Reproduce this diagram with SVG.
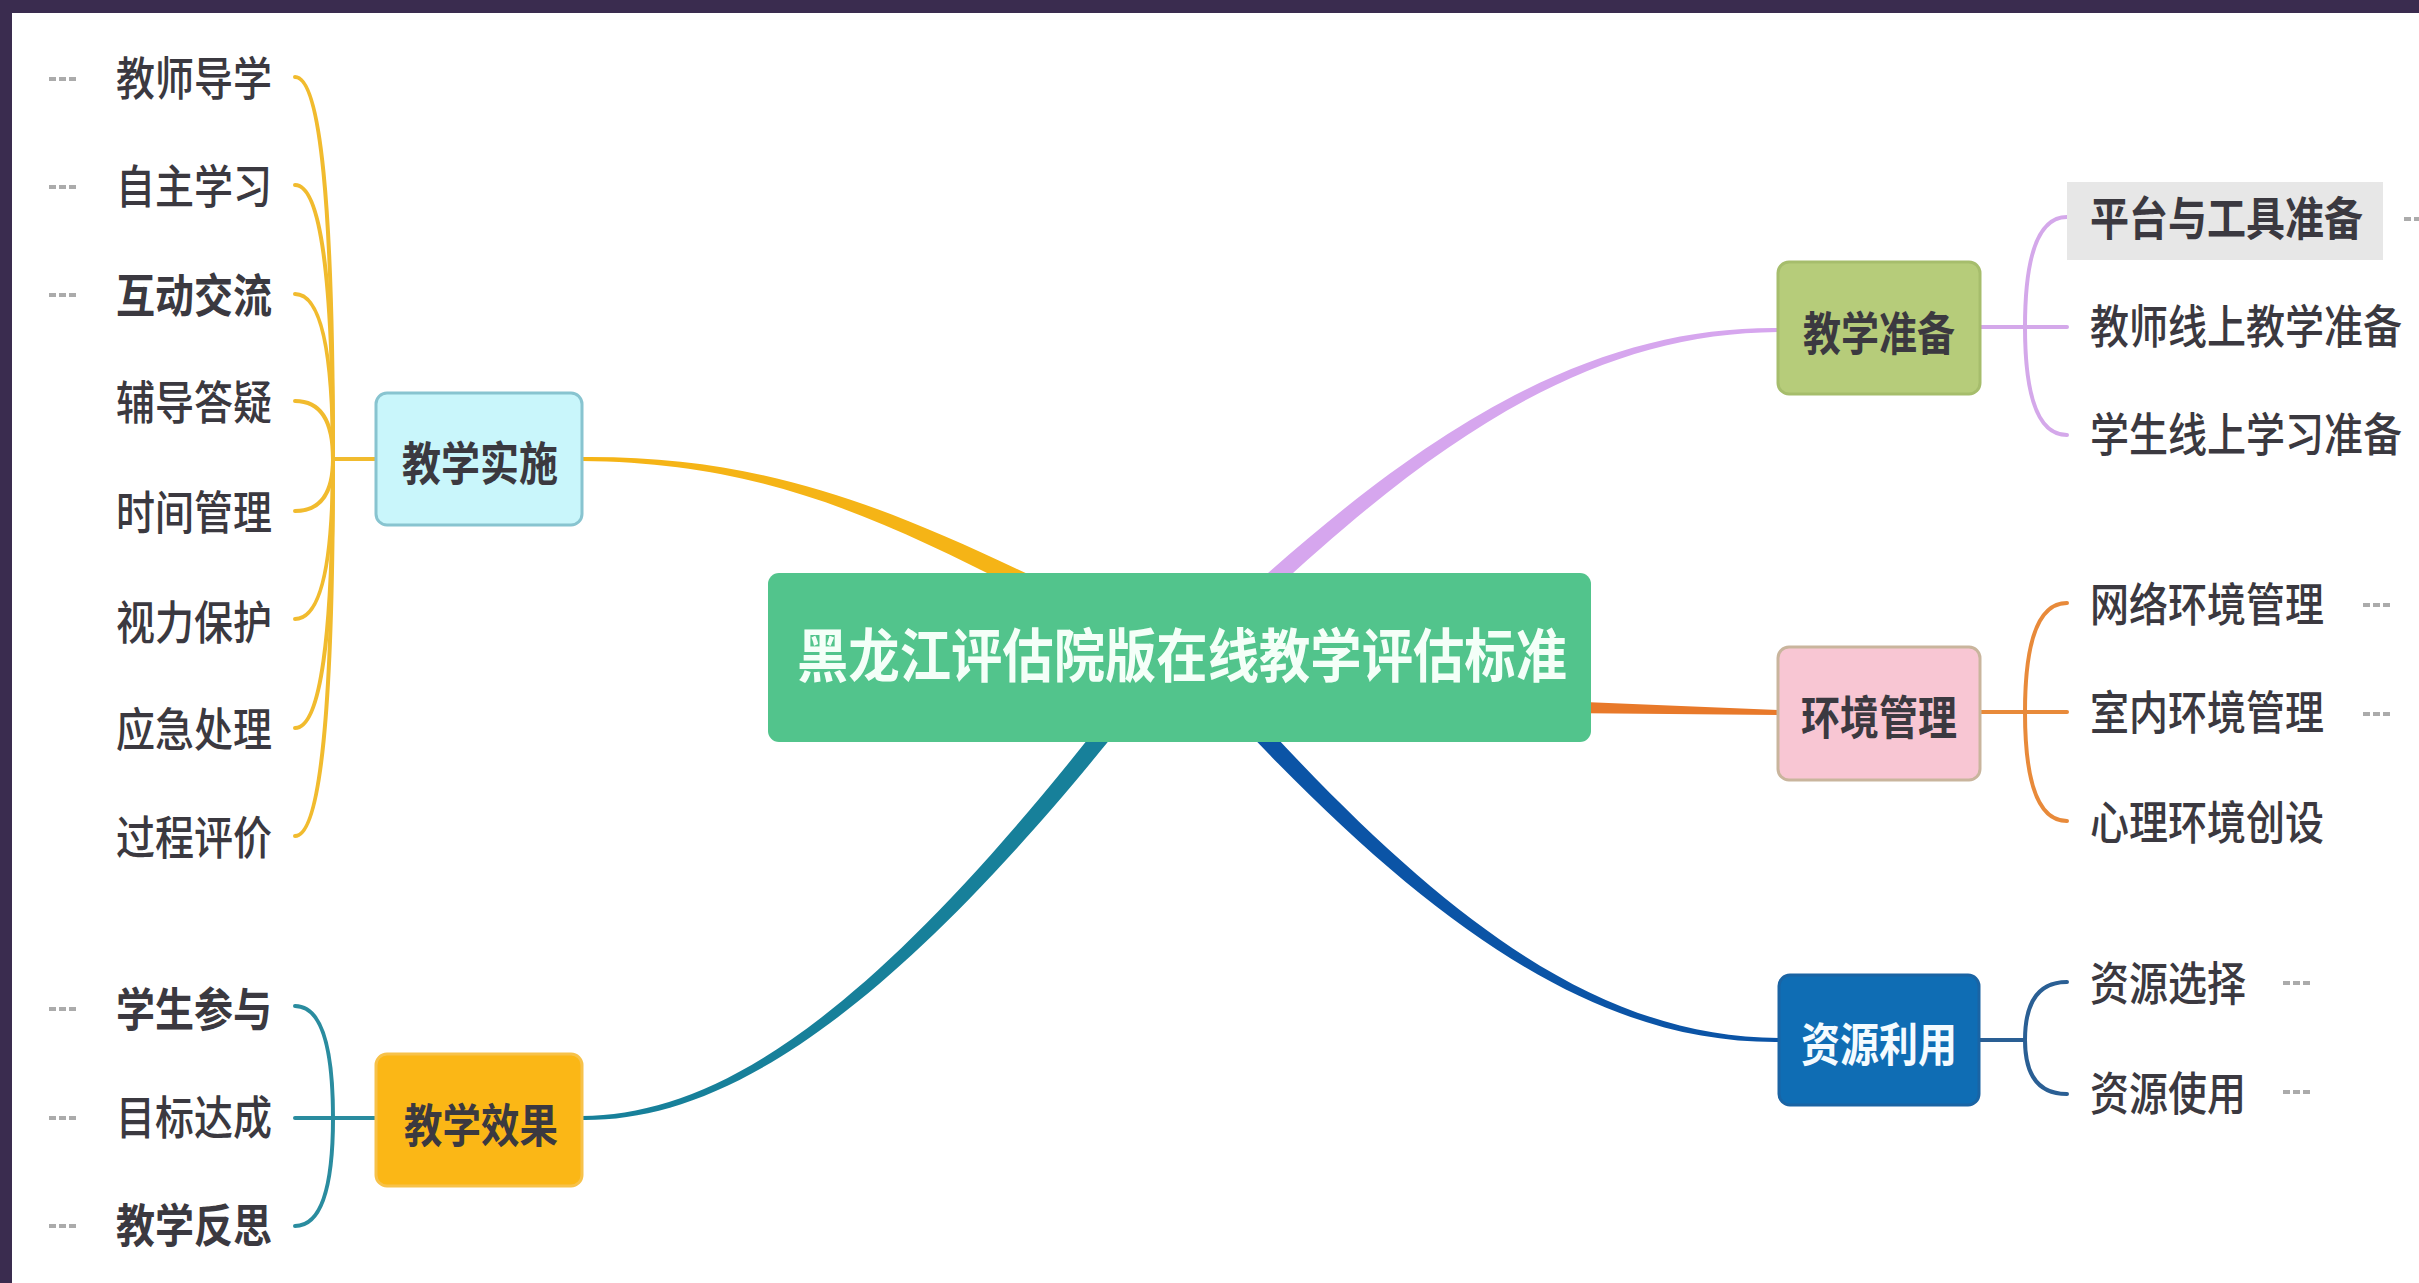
<svg xmlns="http://www.w3.org/2000/svg" width="2419" height="1283" viewBox="0 0 2419 1283">
<style>
  .t { font-family: "Noto Sans CJK SC", "Noto Sans", sans-serif; font-size: 46px; fill: #3b3940; }
  .lf { font-weight: 500; }
  .b { font-weight: 700; }
  .ctr { font-family: "Noto Sans CJK SC", "Noto Sans", sans-serif; font-size: 58px; font-weight: 700; fill: #f4fff8; }
  .ly { fill: none; stroke: #f1bb2e; stroke-width: 4; stroke-linecap: round; }
  .lp { fill: none; stroke: #d4a8ea; stroke-width: 4; stroke-linecap: round; }
  .lo { fill: none; stroke: #e88a3a; stroke-width: 4; stroke-linecap: round; }
  .lb { fill: none; stroke: #2a5f94; stroke-width: 4; stroke-linecap: round; }
  .lt { fill: none; stroke: #2a8c9f; stroke-width: 4; stroke-linecap: round; }
  .dash { stroke: #ababab; stroke-width: 4; stroke-dasharray: 7 3; }
</style>
<rect x="0" y="0" width="2419" height="1283" fill="#ffffff"/>
<rect x="0" y="0" width="2419" height="13" fill="#3a2c4f"/>
<rect x="0" y="0" width="12" height="1283" fill="#3a2c4f"/>

<g id="connectors">
  <path d="M582,457 C760,455.5 882.9,504.2 1044,582 L1036,598 C877.1,515.8 760,462.5 582,461 Z" fill="#f5b416"/>
  <path d="M1778,328 C1600,326.5 1435.5,415.3 1223.8,613.5 L1236.2,626.5 C1444.5,424.7 1600,333.5 1778,332 Z" fill="#d6a6ee"/>
  <path d="M1560,701 L1778,710 L1778,715 L1560,713 Z" fill="#e8792a"/>
  <path d="M1779,1038 C1600,1036.5 1444.8,925.6 1236.7,693.9 L1223.3,706.1 C1435.2,934.4 1600,1043.5 1779,1042 Z" fill="#0b54a6"/>
  <path d="M582,1116 C720,1114.5 874.9,1016 1122.9,694.5 L1137.1,705.5 C885.1,1024 720,1121.5 582,1120 Z" fill="#17809a"/>

  <path class="ly" d="M376,459 L333,459"/>
  <path class="ly" d="M295,77 Q333,77 333,459"/>
  <path class="ly" d="M295,185 Q333,185 333,459"/>
  <path class="ly" d="M295,294 Q333,294 333,459"/>
  <path class="ly" d="M295,401 Q333,401 333,459"/>
  <path class="ly" d="M295,511 Q333,511 333,459"/>
  <path class="ly" d="M295,619 Q333,619 333,459"/>
  <path class="ly" d="M295,728 Q333,728 333,459"/>
  <path class="ly" d="M295,836 Q333,836 333,459"/>

  <path class="lt" d="M376,1118 L295,1118"/>
  <path class="lt" d="M295,1006 Q333,1006 333,1118"/>
  <path class="lt" d="M295,1226 Q333,1226 333,1118"/>

  <path class="lp" d="M1980,327 L2067,327"/>
  <path class="lp" d="M2067,217 Q2025,217 2025,327"/>
  <path class="lp" d="M2067,435 Q2025,435 2025,327"/>

  <path class="lo" d="M1980,712 L2067,712"/>
  <path class="lo" d="M2067,603 Q2025,603 2025,712"/>
  <path class="lo" d="M2067,821 Q2025,821 2025,712"/>

  <path class="lb" d="M1979,1040 L2025,1040"/>
  <path class="lb" d="M2067,982 Q2025,982 2025,1040"/>
  <path class="lb" d="M2067,1094 Q2025,1094 2025,1040"/>

  <line class="dash" x1="49" y1="79" x2="76" y2="79"/>
  <line class="dash" x1="49" y1="187" x2="76" y2="187"/>
  <line class="dash" x1="49" y1="295" x2="76" y2="295"/>
  <line class="dash" x1="49" y1="1009" x2="76" y2="1009"/>
  <line class="dash" x1="49" y1="1118" x2="76" y2="1118"/>
  <line class="dash" x1="49" y1="1226" x2="76" y2="1226"/>
  <line class="dash" x1="2404" y1="219" x2="2419" y2="219"/>
  <line class="dash" x1="2363" y1="605" x2="2390" y2="605"/>
  <line class="dash" x1="2363" y1="714" x2="2390" y2="714"/>
  <line class="dash" x1="2283" y1="983" x2="2310" y2="983"/>
  <line class="dash" x1="2283" y1="1092" x2="2310" y2="1092"/>
</g>

<g id="root">
  <rect x="768" y="573" width="823" height="169" rx="11" fill="#52c48c"/>
  <text class="ctr" x="797" y="677" textLength="770" lengthAdjust="spacingAndGlyphs">黑龙江评估院版在线教学评估标准</text>
</g>

<g id="n-shishi">
  <rect x="376" y="393" width="206" height="132" rx="11" fill="#c9f6fb" stroke="#88c4d0" stroke-width="3"/>
  <text class="t b" x="402" y="479.5" textLength="156" lengthAdjust="spacingAndGlyphs">教学实施</text>
</g>
<g id="n-xiaoguo">
  <rect x="376" y="1054" width="206" height="132" rx="11" fill="#fbb716" stroke="#f7c24a" stroke-width="3"/>
  <text class="t b" x="404" y="1141.5" textLength="154" lengthAdjust="spacingAndGlyphs">教学效果</text>
</g>
<g id="n-zhunbei">
  <rect x="1778" y="262" width="202" height="132" rx="11" fill="#b6cc7a" stroke="#a6bd6c" stroke-width="3"/>
  <text class="t b" x="1803" y="349.5" textLength="152" lengthAdjust="spacingAndGlyphs">教学准备</text>
</g>
<g id="n-huanjing">
  <rect x="1778" y="647" width="202" height="133" rx="11" fill="#f8c6d3" stroke="#c9b59d" stroke-width="3"/>
  <text class="t b" x="1801" y="733.5" textLength="156" lengthAdjust="spacingAndGlyphs">环境管理</text>
</g>
<g id="n-ziyuan">
  <rect x="1779" y="975" width="200" height="130" rx="11" fill="#0f6db4" stroke="#1a64a4" stroke-width="3"/>
  <text class="t b" x="1801" y="1060.5" textLength="156" lengthAdjust="spacingAndGlyphs" style="fill:#f4fbff">资源利用</text>
</g>

<g id="leaf-jiaoshidaoxue"><text class="t lf" x="116" y="94.5" textLength="156" lengthAdjust="spacingAndGlyphs">教师导学</text></g>
<g id="leaf-zizhuxuexi"><text class="t lf" x="116" y="202.5" textLength="156" lengthAdjust="spacingAndGlyphs">自主学习</text></g>
<g id="leaf-hudongjiaoliu"><text class="t b" x="116" y="311.5" textLength="156" lengthAdjust="spacingAndGlyphs">互动交流</text></g>
<g id="leaf-fudaodayi"><text class="t lf" x="116" y="418.5" textLength="156" lengthAdjust="spacingAndGlyphs">辅导答疑</text></g>
<g id="leaf-shijianguanli"><text class="t lf" x="116" y="528.5" textLength="156" lengthAdjust="spacingAndGlyphs">时间管理</text></g>
<g id="leaf-shilibaohu"><text class="t lf" x="116" y="638.5" textLength="156" lengthAdjust="spacingAndGlyphs">视力保护</text></g>
<g id="leaf-yingjichuli"><text class="t lf" x="116" y="745.5" textLength="156" lengthAdjust="spacingAndGlyphs">应急处理</text></g>
<g id="leaf-guochengpingjia"><text class="t lf" x="116" y="853.5" textLength="156" lengthAdjust="spacingAndGlyphs">过程评价</text></g>

<g id="leaf-xueshengcanyu"><text class="t b" x="116" y="1025.5" textLength="156" lengthAdjust="spacingAndGlyphs">学生参与</text></g>
<g id="leaf-mubiaodacheng"><text class="t lf" x="116" y="1133.5" textLength="156" lengthAdjust="spacingAndGlyphs">目标达成</text></g>
<g id="leaf-jiaoxuefansi"><text class="t b" x="116" y="1241.5" textLength="156" lengthAdjust="spacingAndGlyphs">教学反思</text></g>

<g id="leaf-pingtai">
  <rect x="2067" y="182" width="316" height="78" fill="#e7e7e7"/>
  <text class="t b" x="2090" y="234.5" textLength="273" lengthAdjust="spacingAndGlyphs">平台与工具准备</text>
</g>
<g id="leaf-jiaoshixianshang"><text class="t lf" transform="translate(2090,342.5) scale(0.848,1)" x="0" y="0">教师线上教学准备</text></g>
<g id="leaf-xueshengxianshang"><text class="t lf" transform="translate(2090,450.5) scale(0.848,1)" x="0" y="0">学生线上学习准备</text></g>
<g id="leaf-wangluo"><text class="t lf" x="2090" y="620.5" textLength="234" lengthAdjust="spacingAndGlyphs">网络环境管理</text></g>
<g id="leaf-shinei"><text class="t lf" x="2090" y="728.5" textLength="234" lengthAdjust="spacingAndGlyphs">室内环境管理</text></g>
<g id="leaf-xinli"><text class="t lf" x="2090" y="838.5" textLength="234" lengthAdjust="spacingAndGlyphs">心理环境创设</text></g>
<g id="leaf-ziyuanxuanze"><text class="t lf" x="2090" y="999.5" textLength="156" lengthAdjust="spacingAndGlyphs">资源选择</text></g>
<g id="leaf-ziyuanshiyong"><text class="t lf" x="2090" y="1109.5" textLength="156" lengthAdjust="spacingAndGlyphs">资源使用</text></g>
</svg>
